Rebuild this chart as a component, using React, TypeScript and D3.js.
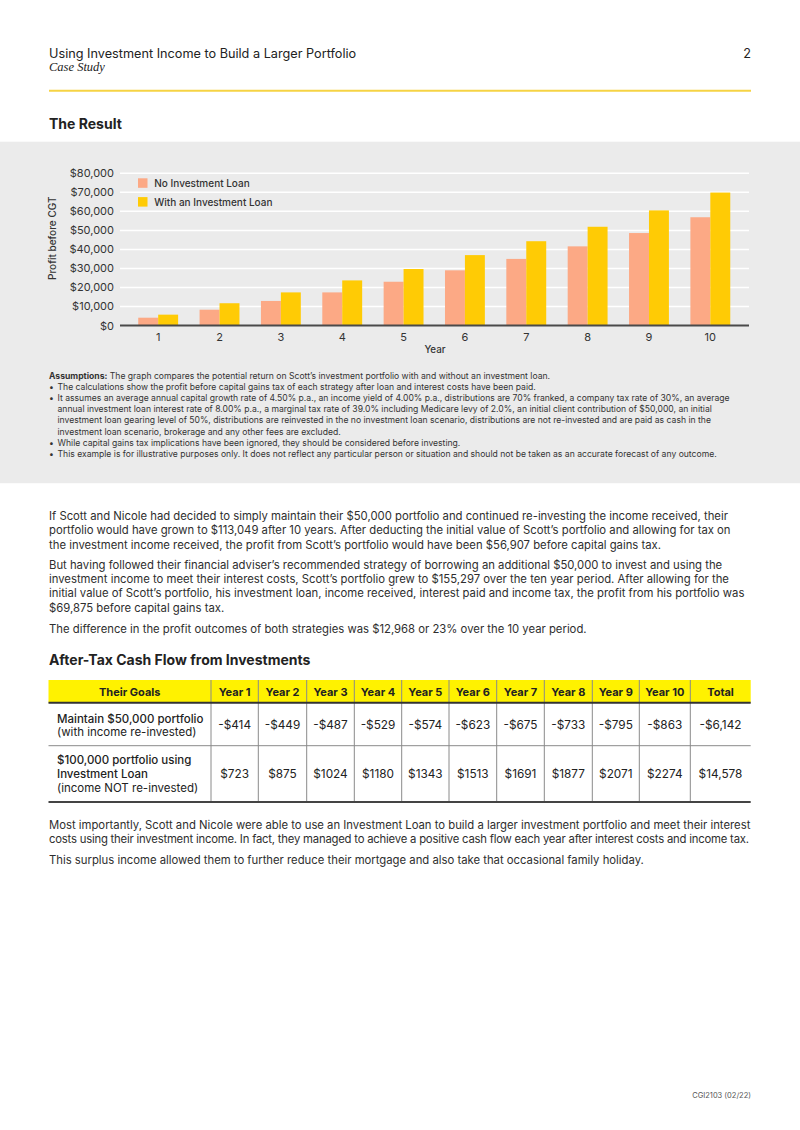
import React from "react";
import * as d3 from "d3";

const years = [1, 2, 3, 4, 5, 6, 7, 8, 9, 10];
const noLoan = [4100, 8300, 12900, 17400, 23000, 29000, 35000, 41600, 48600, 56907];
const withLoan = [5700, 11700, 17400, 23700, 29700, 37000, 44300, 51900, 60500, 69875];
const yTicks = [0, 10000, 20000, 30000, 40000, 50000, 60000, 70000, 80000];
const seriesNames = ["No Investment Loan", "With an Investment Loan"];

const tableHeaders = ["Their Goals", "Year 1", "Year 2", "Year 3", "Year 4", "Year 5", "Year 6", "Year 7", "Year 8", "Year 9", "Year 10", "Total"];
const row1Label = ["Maintain $50,000 portfolio", "(with income re-invested)"];
const row1Values = ["-$414", "-$449", "-$487", "-$529", "-$574", "-$623", "-$675", "-$733", "-$795", "-$863", "-$6,142"];
const row2Label = ["$100,000 portfolio using", "Investment Loan", "(income NOT re-invested)"];
const row2Values = ["$723", "$875", "$1024", "$1180", "$1343", "$1513", "$1691", "$1877", "$2071", "$2274", "$14,578"];

const para1 = [
  "If Scott and Nicole had decided to simply maintain their $50,000 portfolio and continued re-investing the income received, their",
  "portfolio would have grown to $113,049 after 10 years. After deducting the initial value of Scott\u2019s portfolio and allowing for tax on",
  "the investment income received, the profit from Scott\u2019s portfolio would have been $56,907 before capital gains tax.",
];
const para2 = [
  "But having followed their financial adviser\u2019s recommended strategy of borrowing an additional $50,000 to invest and using the",
  "investment income to meet their interest costs, Scott\u2019s portfolio grew to $155,297 over the ten year period. After allowing for the",
  "initial value of Scott\u2019s portfolio, his investment loan, income received, interest paid and income tax, the profit from his portfolio was",
  "$69,875 before capital gains tax.",
];
const para3 = ["The difference in the profit outcomes of both strategies was $12,968 or 23% over the 10 year period."];
const para4 = [
  "Most importantly, Scott and Nicole were able to use an Investment Loan to build a larger investment portfolio and meet their interest",
  "costs using their investment income. In fact, they managed to achieve a positive cash flow each year after interest costs and income tax.",
];
const para5 = ["This surplus income allowed them to further reduce their mortgage and also take that occasional family holiday."];

const assumptions: { bullet: boolean; lines: string[] }[] = [
  { bullet: false, lines: ["The graph compares the potential return on Scott\u2019s investment portfolio with and without an investment loan."] },
  { bullet: true, lines: ["The calculations show the profit before capital gains tax of each strategy after loan and interest costs have been paid."] },
  {
    bullet: true,
    lines: [
      "It assumes an average annual capital growth rate of 4.50% p.a., an income yield of 4.00% p.a., distributions are 70% franked, a company tax rate of 30%, an average",
      "annual investment loan interest rate of 8.00% p.a., a marginal tax rate of 39.0% including Medicare levy of 2.0%, an initial client contribution of $50,000, an initial",
      "investment loan gearing level of 50%, distributions are reinvested in the no investment loan scenario, distributions are not re-invested and are paid as cash in the",
      "investment loan scenario, brokerage and any other fees are excluded.",
    ],
  },
  { bullet: true, lines: ["While capital gains tax implications have been ignored, they should be considered before investing."] },
  { bullet: true, lines: ["This example is for illustrative purposes only. It does not reflect any particular person or situation and should not be taken as an accurate forecast of any outcome."] },
];

const FONT = "Inter, Roboto, 'Noto Sans', sans-serif";
const TEXT = "#2e2e2e";
const SALMON = "#FCA985";
const YELLOW = "#FFCB05";
const AFS = 8.6;

export default function App() {
  const x = d3.scaleBand<number>().domain(years).range([127.5, 741]).paddingInner(0.35).paddingOuter(0.175);
  const sub = d3.scaleBand<number>().domain([0, 1]).range([0, x.bandwidth()]);
  const y = d3.scaleLinear().domain([0, 80000]).range([325.5, 173.3]);
  const fmt = (v: number) => "$" + d3.format(",")(v);

  const colX = [48.5, 211, 258.3, 306.7, 354.3, 401.7, 449, 496.7, 544.3, 592.3, 639.3, 690.3, 750.7];

  let aY = 386.7;
  const assumptionEls: React.ReactNode[] = [];
  assumptions.forEach((a, i) => {
    if (!a.bullet) {
      assumptionEls.push(
        <text key={"a" + i} x={49} y={376 + 3} fontSize={AFS} fill="#333">
          <tspan fontWeight={700}>Assumptions:</tspan> {a.lines[0]}
        </text>
      );
      return;
    }
    a.lines.forEach((l, j) => {
      assumptionEls.push(
        <g key={"a" + i + "-" + j}>
          {j === 0 && (
            <text x={49} y={aY + 3} fontSize={AFS} fill="#333">
              {"\u2022"}
            </text>
          )}
          <text x={57.5} y={aY + 3} fontSize={AFS} fill="#333">
            {l}
          </text>
        </g>
      );
      aY += 11.2;
    });
  });

  const paraBlock = (lines: string[], startY: number, key: string, maxWidth?: number) =>
    lines.map((l, i) => (
      <text
        key={key + i}
        x={49}
        y={startY + i * 14.4 + 4}
        fontSize={11.3}
        fill={TEXT}
        {...(maxWidth && i === lines.length - 1 ? { textLength: maxWidth, lengthAdjust: "spacing" } : {})}
      >
        {l}
      </text>
    ));

  return (
    <svg
      width={800}
      height={1130}
      style={{ position: "absolute", left: 0, top: 0, display: "block", background: "#fff" }}
      fontFamily={FONT}
    >
      <rect width={800} height={1130} fill="#fff" />
      {/* header */}
      <text x={49} y={57.5} fontSize={12.7} fill="#222">
        Using Investment Income to Build a Larger Portfolio
      </text>
      <text x={49} y={71} fontSize={12.5} fontStyle="italic" fontFamily="'Liberation Serif', 'DejaVu Serif', serif" fill="#222">
        Case Study
      </text>
      <text x={751} y={57.5} fontSize={12.7} textAnchor="end" fill="#222">
        2
      </text>
      <line x1={49} x2={751} y1={90.7} y2={90.7} stroke="#F6D344" strokeWidth={2} />
      <text x={49} y={128.5} fontSize={14} fontWeight={700} fill="#222">
        The Result
      </text>

      {/* chart panel */}
      <rect x={0} y={141.7} width={800} height={341.5} fill="#EBEBEB" />
      {yTicks.slice(1).map((t) => (
        <line key={"g" + t} x1={120} x2={749} y1={y(t)} y2={y(t)} stroke="#fff" strokeWidth={1.5} />
      ))}
      {yTicks.map((t) => (
        <text key={"yt" + t} x={114} y={y(t) + 4} fontSize={11} textAnchor="end" fill="#333">
          {fmt(t)}
        </text>
      ))}
      <text transform="translate(55.5,238.3) rotate(-90)" fontSize={10} fontWeight={500} textAnchor="middle" fill="#333">
        Profit before CGT
      </text>
      {years.map((yr, i) => (
        <g key={"b" + yr}>
          <rect x={(x(yr) as number) + (sub(0) as number)} y={y(noLoan[i])} width={sub.bandwidth()} height={y(0) - y(noLoan[i])} fill={SALMON} />
          <rect x={(x(yr) as number) + (sub(1) as number)} y={y(withLoan[i])} width={sub.bandwidth()} height={y(0) - y(withLoan[i])} fill={YELLOW} />
        </g>
      ))}
      <line x1={120} x2={749} y1={y(0)} y2={y(0)} stroke="#4a4a4a" strokeWidth={2} />
      {years.map((yr) => (
        <text key={"xt" + yr} x={(x(yr) as number) + x.bandwidth() / 2} y={340.5} fontSize={11} textAnchor="middle" fill="#333">
          {yr}
        </text>
      ))}
      <text x={435} y={353} fontSize={9.8} fontWeight={500} textAnchor="middle" fill="#333">
        Year
      </text>
      {/* legend */}
      {seriesNames.map((n, i) => (
        <g key={"l" + i}>
          <rect x={138} y={178.3 + i * 18.8} width={9.5} height={9.5} fill={i === 0 ? SALMON : YELLOW} />
          <text x={154.3} y={187 + i * 18.8} fontSize={10} fontWeight={500} fill="#333">
            {n}
          </text>
        </g>
      ))}

      {assumptionEls}

      {/* body paragraphs */}
      {paraBlock(para1, 515.7, "p1")}
      {paraBlock(para2, 564.5, "p2")}
      {paraBlock(para3, 628.5, "p3")}

      <text x={49} y={665} fontSize={14} fontWeight={700} fill="#222">
        After-Tax Cash Flow from Investments
      </text>

      {/* table */}
      <rect x={colX[0]} y={680} width={colX[12] - colX[0]} height={22.7} fill="#FFF200" />
      {tableHeaders.map((h, i) => (
        <text key={"th" + i} x={(colX[i] + colX[i + 1]) / 2} y={695.5} fontSize={11} fontWeight={700} textAnchor="middle" fill="#222">
          {h}
        </text>
      ))}
      {colX.slice(1, 12).map((cx, i) => (
        <line key={"v" + i} x1={cx} x2={cx} y1={680} y2={802} stroke="#8a8a8a" strokeWidth={1} />
      ))}
      <line x1={colX[0]} x2={colX[12]} y1={702.7} y2={702.7} stroke="#333" strokeWidth={2} />
      <line x1={colX[0]} x2={colX[12]} y1={745.7} y2={745.7} stroke="#8a8a8a" strokeWidth={1} />
      <line x1={colX[0]} x2={colX[12]} y1={802} y2={802} stroke="#444" strokeWidth={2} />
      {row1Label.map((l, i) => (
        <text key={"r1l" + i} x={57} y={722.5 + i * 13.4} fontSize={11.5} fontWeight={i === 0 ? 500 : 400} fill="#222">
          {l}
        </text>
      ))}
      {row1Values.map((v, i) => (
        <text key={"r1v" + i} x={(colX[i + 1] + colX[i + 2]) / 2} y={728.5} fontSize={11.8} textAnchor="middle" fill="#222">
          {v}
        </text>
      ))}
      {row2Label.map((l, i) => (
        <text key={"r2l" + i} x={57} y={763.5 + i * 14} fontSize={11.5} fontWeight={i < 2 ? 500 : 400} fill="#222">
          {l}
        </text>
      ))}
      {row2Values.map((v, i) => (
        <text key={"r2v" + i} x={(colX[i + 1] + colX[i + 2]) / 2} y={777.5} fontSize={11.8} textAnchor="middle" fill="#222">
          {v}
        </text>
      ))}

      {paraBlock(para4, 825, "p4", 700)}
      {paraBlock(para5, 859.5, "p5")}

      <text x={751} y={1098} fontSize={7.5} textAnchor="end" fill="#555">
        CGI2103 (02/22)
      </text>
    </svg>
  );
}
